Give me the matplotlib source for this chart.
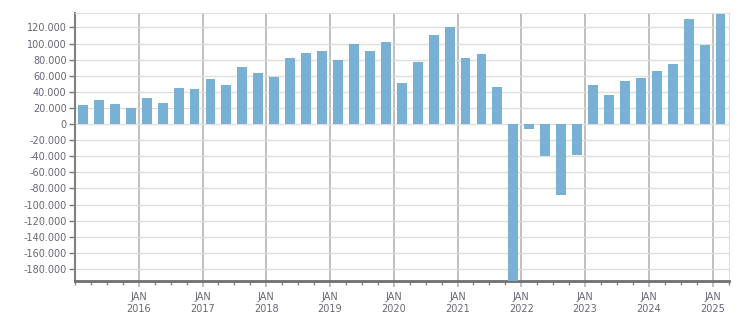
import numpy as np
import matplotlib.pyplot as plt
from matplotlib.ticker import FuncFormatter, MultipleLocator

# Quarterly values, Q1 2015 .. Q1 2025
values = [23600, 29800, 24800, 19900, 32300, 26000, 44700, 43400,
          55800, 48400, 70700, 63300, 58300, 81900, 88100, 90600,
          79400, 99300, 90600, 101700, 50900, 76900, 110400, 120300,
          81900, 86800, 45900, -200000, -6200, -39300, -87700, -38500,
          48400, 36000, 53300, 57100, 65800, 74400, 130300, 98000,
          137000]
years = list(range(2016, 2026))

x = np.arange(len(values)) + 0.5
year_pos = [(y - 2015) * 4 for y in years]
year_labels = ["JAN\n%d" % y for y in years]

fig = plt.figure(figsize=(7.51, 3.13), dpi=100)
ax = fig.add_axes([75 / 751, 32.3 / 313, 653.5 / 751, 267.4 / 313])

ax.bar(x, values, width=0.62, color="#78b1d3", zorder=3)

ax.set_xlim(0, len(values))
ax.set_ylim(-194500, 137500)

# horizontal grid
ax.yaxis.set_major_locator(MultipleLocator(20000))
ax.grid(axis="y", color="#dedede", linewidth=1.0, zorder=0)
ax.yaxis.set_major_formatter(FuncFormatter(lambda v, p: "0" if v == 0 else "{:,.0f}".format(v).replace(",", ".")))
ax.tick_params(axis="y", length=4, width=1, color="#777777", labelsize=7, labelcolor="#666677", pad=2)

# vertical year lines
for p in year_pos:
    ax.axvline(p, color="#b4b4b4", linewidth=1.2, zorder=1)
ax.set_xticks(year_pos)
ax.set_xticklabels(year_labels)
ax.set_xticks(np.arange(0, len(values) + 1), minor=True)
ax.tick_params(axis="x", which="major", length=4, width=1.2, color="#b4b4b4",
               labelsize=7, labelcolor="#666677", pad=4)
ax.tick_params(axis="x", which="minor", length=3, width=1, color="#888888")

for s in ["top"]:
    ax.spines[s].set_color("#dedede")
ax.spines["right"].set_color("#dedede")
ax.spines["left"].set_color("#808080")
ax.spines["left"].set_linewidth(1.5)
ax.spines["bottom"].set_color("#707070")
ax.spines["bottom"].set_linewidth(2)
for t in ax.get_xticklabels():
    t.set_linespacing(1.3)

fig.savefig("out.png", dpi=100)
